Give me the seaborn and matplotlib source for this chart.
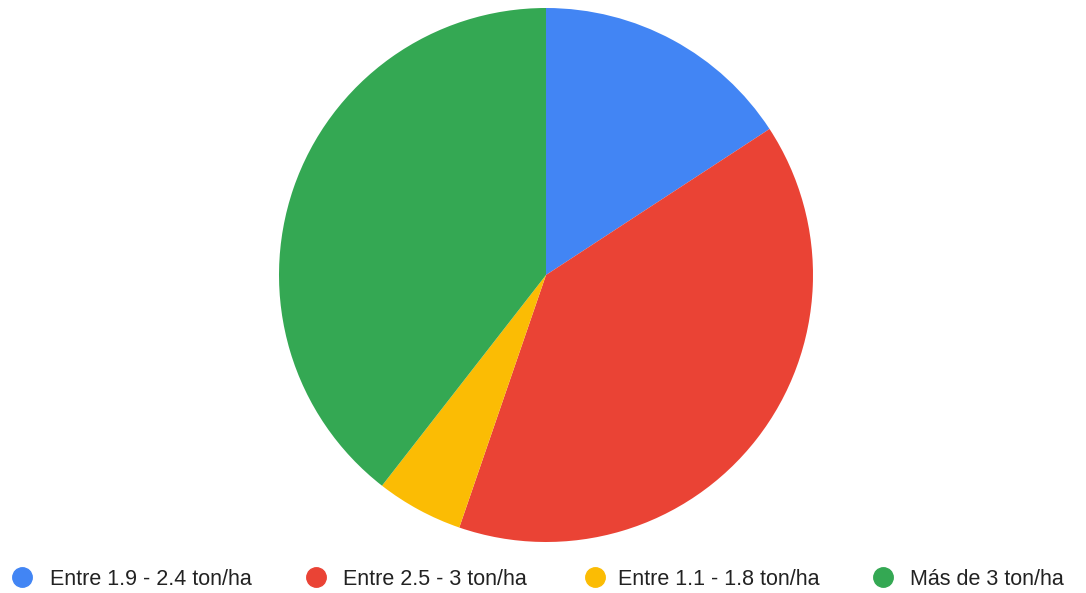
import matplotlib
matplotlib.use("Agg")
import matplotlib.pyplot as plt
from matplotlib.lines import Line2D
import seaborn as sns

categories = ["Entre 1.9 - 2.4 ton/ha", "Entre 2.5 - 3 ton/ha", "Entre 1.1 - 1.8 ton/ha", "Más de 3 ton/ha"]
values = [6, 15, 2, 15]
colors = ["#4285F4", "#EA4335", "#FBBC04", "#34A853"]

sns.set_theme(style="white")
plt.rcParams['font.family'] = ['Liberation Sans', 'DejaVu Sans']

W, H = 1086, 593
fig = plt.figure(figsize=(W / 100, H / 100), dpi=100)
cx, cy, r = 546, 275, 267
ax = fig.add_axes([(cx - r) / W, (H - cy - r) / H, 2 * r / W, 2 * r / H])
pal = sns.color_palette(colors)
ax.pie(values, colors=pal, startangle=90, counterclock=False, radius=1,
       wedgeprops=dict(linewidth=0))
ax.set_xlim(-1, 1)
ax.set_ylim(-1, 1)
ax.set_aspect("equal")
ax.axis("off")

# legend items placed manually (pixel positions of marker centre and text start)
marker_x = [22, 316, 595, 883]
text_x = [50, 343, 618, 910]
ly = 577
for mx, tx, c, lab in zip(marker_x, text_x, pal, categories):
    fig.add_artist(Line2D([mx / W], [1 - ly / H], transform=fig.transFigure,
                          marker="o", linestyle="", markersize=14,
                          markerfacecolor=c, markeredgecolor=c))
    fig.text(tx / W, 1 - ly / H, lab, ha="left", va="center_baseline",
             fontsize=15.5, color="#222222")

fig.savefig("out.png", dpi=100, facecolor="white")
